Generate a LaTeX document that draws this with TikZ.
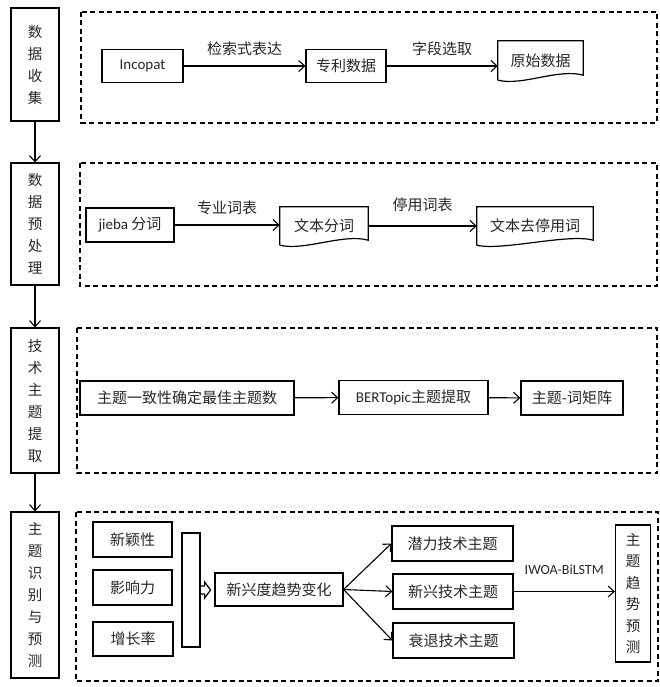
\documentclass[tikz,border=0pt]{standalone}
\usepackage{fontspec}
\setmainfont{Noto Sans CJK SC}
\newfontfamily\lat{Carlito}
\usetikzlibrary{arrows.meta}

\tikzset{
  stage/.style={draw, line width=1.2pt, minimum width=48, inner sep=0pt, align=center, text=black!85, font=\fontsize{14.5}{22}\selectfont},
  box/.style={draw, line width=1.2pt, inner sep=0pt, text=black!85, font=\fontsize{15}{16}\selectfont},
  docbox/.style={inner sep=0pt, text=black!85, font=\fontsize{15}{16}\selectfont},
  lbl/.style={inner sep=0pt, text=black!85, font=\fontsize{15}{16}\selectfont},
  frame/.style={line width=1.2pt, dash pattern=on 5pt off 3.5pt},
  link/.style={->, line width=1.1pt},
  >={Straight Barb[length=6pt,width=11pt]}
}

\newcommand\docoutline[1]{%
  \draw[line width=1.2pt] (#1.south west) -- (#1.north west) -- (#1.north east) -- ([yshift=5pt]#1.south east)
    .. controls ([xshift=-25pt,yshift=12pt]#1.south east) and ([xshift=25pt,yshift=-6pt]#1.south west) .. (#1.south west);}

\begin{document}
\begin{tikzpicture}[x=1pt,y=-1pt]
    \useasboundingbox (0,0) rectangle (660,687);
    \draw[frame] (81,12) rectangle (657,123);
    \draw[frame] (80,163) rectangle (657,286);
    \draw[frame] (77,328) rectangle (657,473);
    \draw[frame] (76,512) rectangle (658,681);

    \node[stage, minimum height=113] (collect) at (35,64.5) {数\\据\\收\\集};
    \node[stage, minimum height=122] (prep) at (35,224) {数\\据\\预\\处\\理};
    \node[stage, minimum height=145] (extract) at (35,400.5) {技\\术\\主\\题\\提\\取};
    \node[stage, minimum height=166] (predict) at (35,595) {主\\题\\识\\别\\与\\预\\测};
    \draw[link] (collect) -- (prep);
    \draw[link] (prep) -- (extract);
    \draw[link] (extract) -- (predict);

    \node[box, minimum width=81, minimum height=33] (incopat) at (142.5,66) {\lat Incopat};
    \node[box, minimum width=80, minimum height=33] (patent) at (346,66) {专利数据};
    \node[docbox, minimum width=85, minimum height=39] (raw) at (540.5,60.5) {原始数据};
    \docoutline{raw}
    \draw[link] (incopat) -- (patent) node[lbl, midway, above=10pt] {检索式表达};
    \draw[link] (patent) -- (patent -| raw.west) node[lbl, midway, above=10pt] {字段选取};

    \node[box, minimum width=88, minimum height=34] (jieba) at (130,225) {\lat jieba {\rmfamily 分词}};
    \node[docbox, minimum width=88, minimum height=38] (seg) at (324,226) {文本分词};
    \node[docbox, minimum width=116, minimum height=38] (stop) at (535,226) {文本去停用词};
    \docoutline{seg}
    \docoutline{stop}
    \draw[link] (jieba) -- (jieba -| seg.west) node[lbl, midway, above=10pt] {专业词表};
    \draw[link] (seg) -- (seg -| stop.west) node[lbl, midway, above=14pt] {停用词表};

    \node[box, minimum width=214, minimum height=34] (coher) at (187,398) {主题一致性确定最佳主题数};
    \node[box, minimum width=149, minimum height=34] (bert) at (413.5,397.5) {{\lat BERTopic}主题提取};
    \node[box, minimum width=102, minimum height=34] (matrix) at (572,398) {主题-词矩阵};
    \draw[link] (coher) -- (bert);
    \draw[link] (bert) -- (matrix);

    \node[box, minimum width=79, minimum height=35] (novel) at (132.5,539.5) {新颖性};
    \node[box, minimum width=79, minimum height=35] (impact) at (132.5,587.5) {影响力};
    \node[box, minimum width=80, minimum height=34] (growth) at (133,639) {增长率};
    \node[draw, line width=1.2pt, minimum width=18, minimum height=114, inner sep=0pt] (merge) at (191,590) {};
    \draw[line width=1.2pt] ([yshift=4pt]merge.east) -- ++(4,0) -- ++(0,-4) -- ++(6,8) -- ++(-6,8) -- ++(0,-4) -- ++(-4,0);
    \node[box, minimum width=128, minimum height=33] (trend) at (279,589.5) {新兴度趋势变化};
    \node[box, minimum width=121, minimum height=35] (potent) at (452.5,543.5) {潜力技术主题};
    \node[box, minimum width=120, minimum height=35] (emerge) at (453,591.5) {新兴技术主题};
    \node[box, minimum width=121, minimum height=35] (decline) at (453.5,640.5) {衰退技术主题};
    \node[box, minimum width=35, minimum height=137, align=center, font=\fontsize{14.5}{21.5}\selectfont] (forecast) at (633,593.5) {主\\题\\趋\\势\\预\\测};
    \draw[link] (trend.east) -- (potent.west);
    \draw[link] (trend.east) -- (emerge.west);
    \draw[link] (trend.east) -- (decline.west);
    \draw[link] (emerge) -- (emerge -| forecast.west) node[lbl, midway, above=16pt, font=\lat\fontsize{14}{16}\selectfont] {IWOA-BiLSTM};
\end{tikzpicture}
\end{document}
